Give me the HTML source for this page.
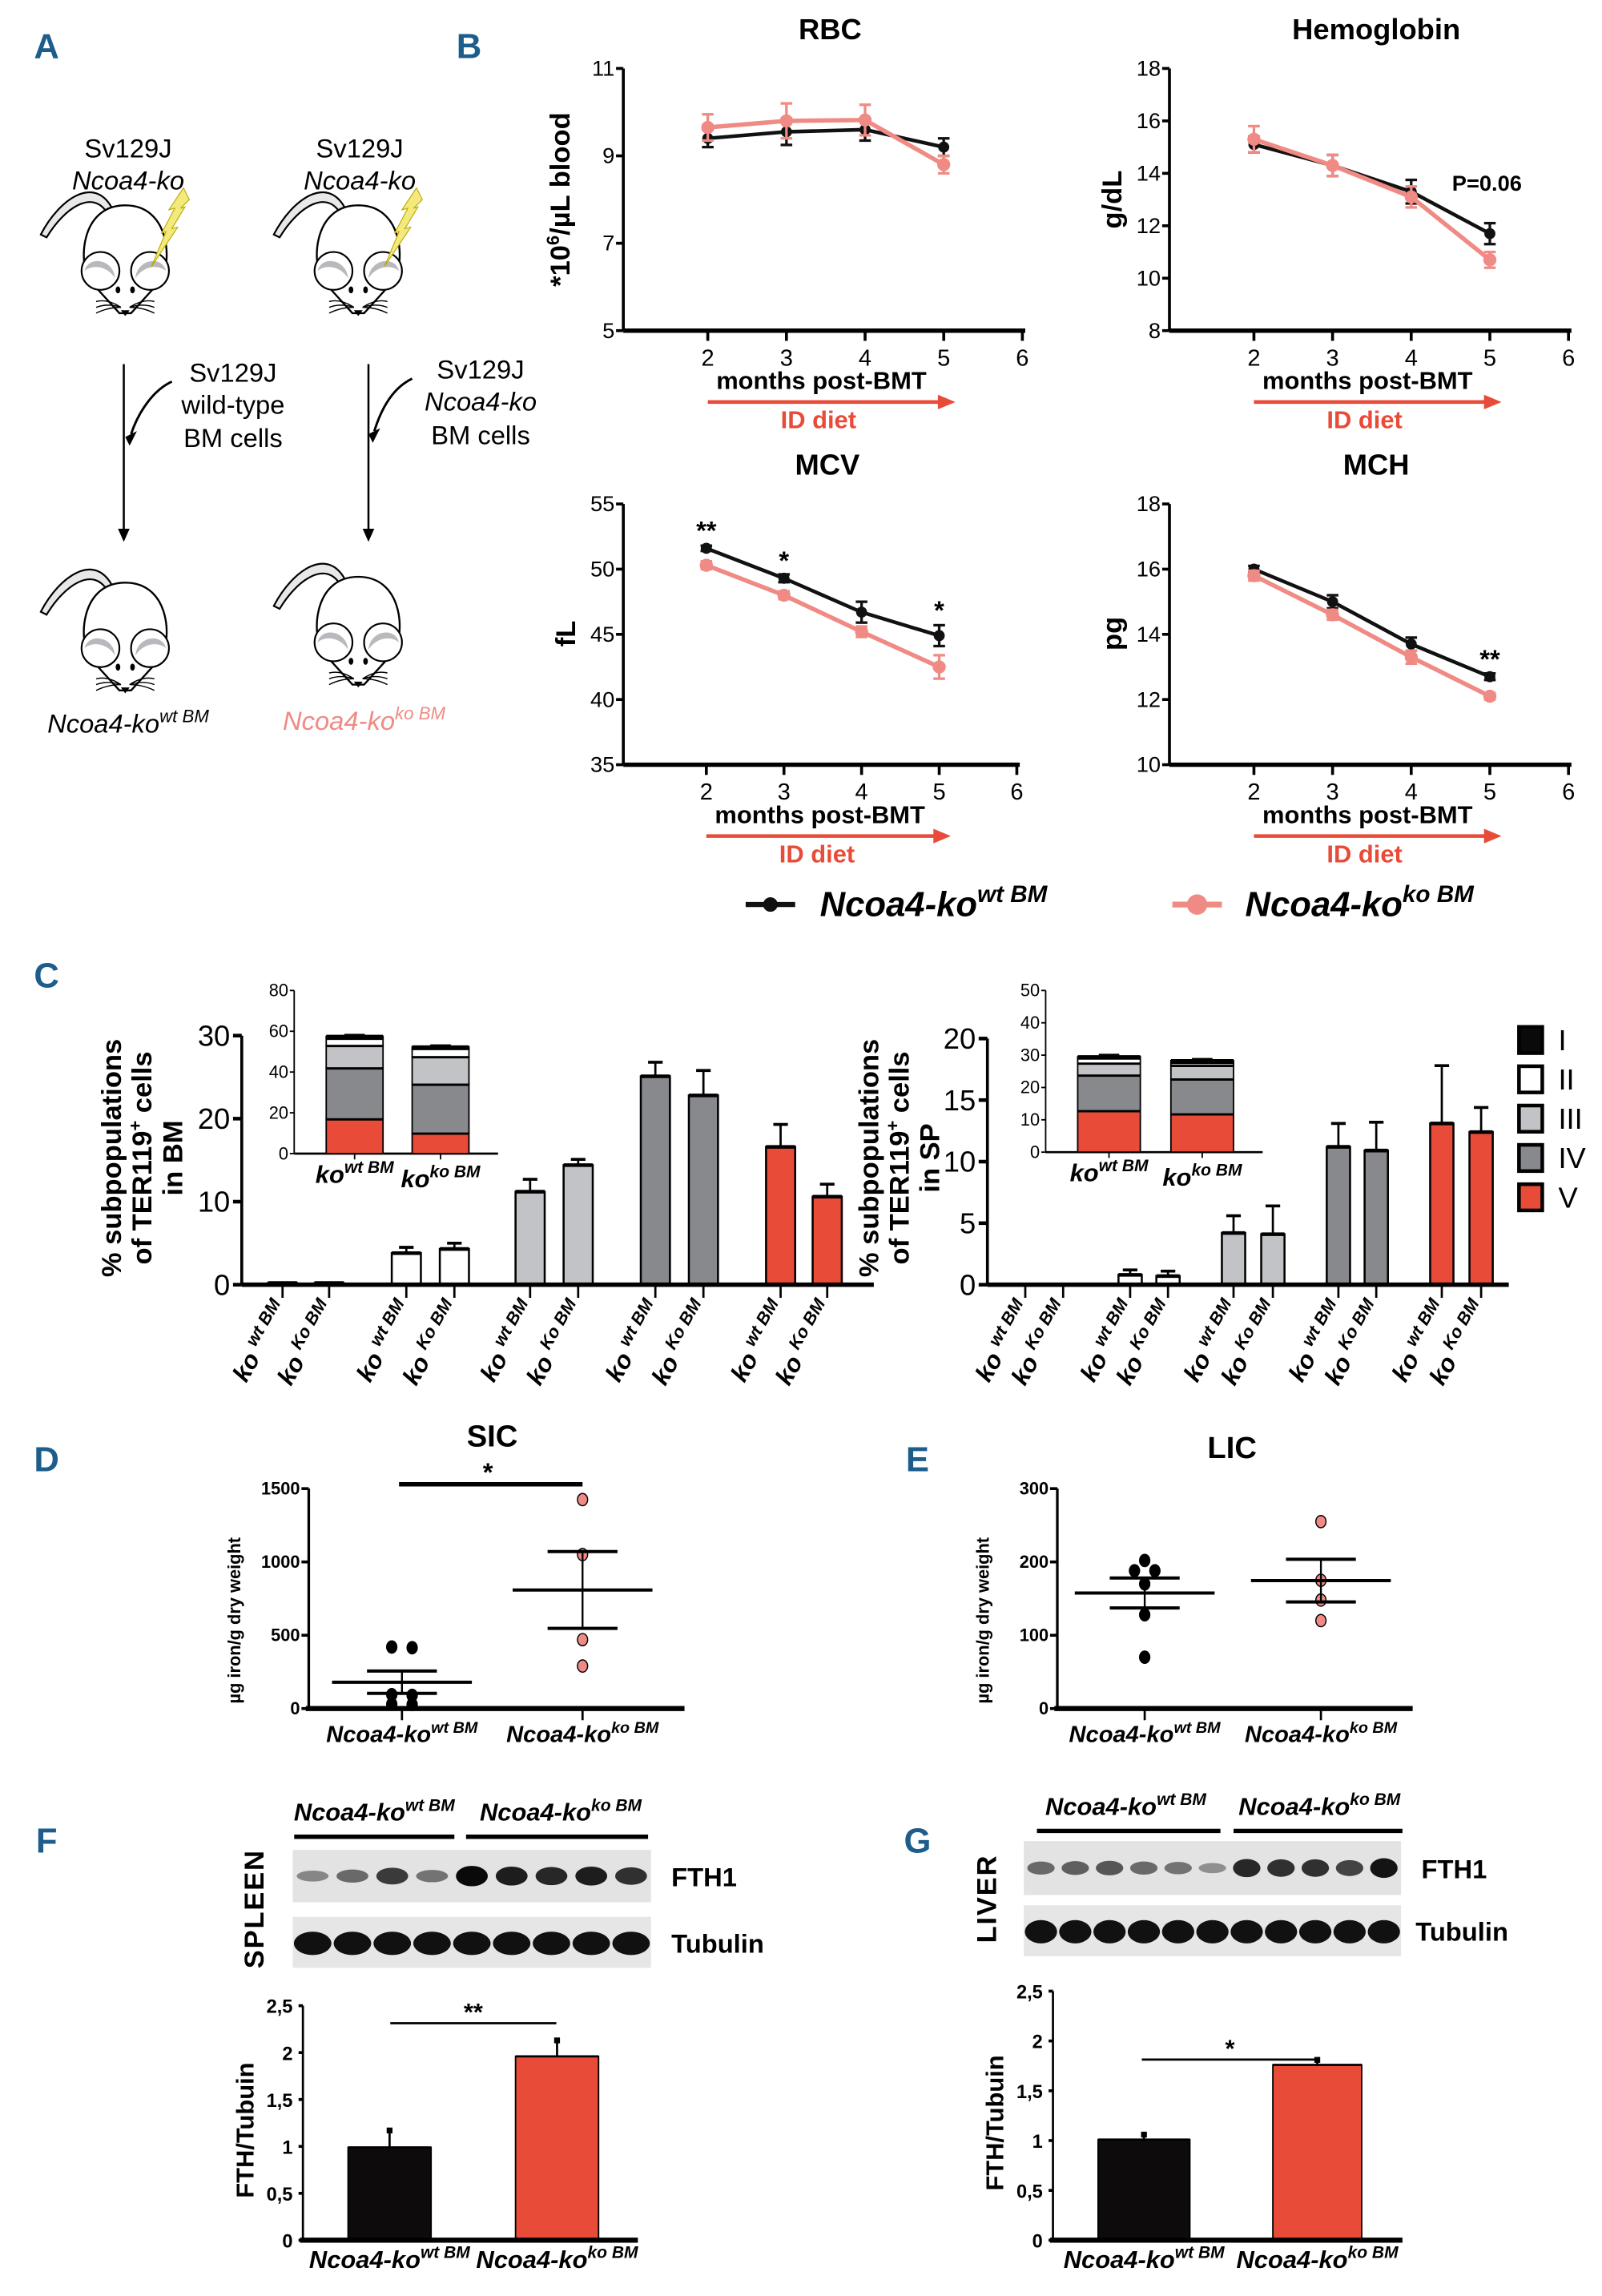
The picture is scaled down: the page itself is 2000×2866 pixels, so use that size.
<!DOCTYPE html>
<html><head><meta charset="utf-8"><title>Ncoa4 figure</title>
<style>
html,body{margin:0;padding:0;background:#fff;}
svg{display:block;}
text{font-family:"Liberation Sans Narrow","Liberation Sans",sans-serif;}
</style></head>
<body>
<svg id="fig" xmlns="http://www.w3.org/2000/svg" width="2000" height="2866" viewBox="0 0 1100 1576.3" preserveAspectRatio="none"></svg>
<script>
// ---------- DATA ----------
const months = [2, 3, 4, 5];
const rbcWt = [9.4, 9.55, 9.6, 9.2];
const rbcWtErr = [0.2, 0.3, 0.25, 0.2];
const rbcKo = [9.65, 9.8, 9.82, 8.8];
const rbcKoErr = [0.3, 0.4, 0.35, 0.2];
const hbWt = [15.1, 14.3, 13.3, 11.7];
const hbWtErr = [0.3, 0.4, 0.45, 0.4];
const hbKo = [15.3, 14.3, 13.1, 10.7];
const hbKoErr = [0.5, 0.4, 0.4, 0.3];
const mcvWt = [51.6, 49.3, 46.7, 44.9];
const mcvWtErr = [0.2, 0.3, 0.8, 0.8];
const mcvKo = [50.3, 48.0, 45.2, 42.5];
const mcvKoErr = [0.3, 0.3, 0.4, 0.9];
const mchWt = [16.0, 15.0, 13.7, 12.7];
const mchWtErr = [0.1, 0.2, 0.2, 0.1];
const mchKo = [15.8, 14.6, 13.3, 12.1];
const mchKoErr = [0.15, 0.15, 0.2, 0.1];
const rbcTicks = [5, 7, 9, 11];
const hbTicks = [8, 10, 12, 14, 16, 18];
const mcvTicks = [35, 40, 45, 50, 55];
const mchTicks = [10, 12, 14, 16, 18];
const xTicks = [2, 3, 4, 5, 6];

const stages = ["I", "II", "III", "IV", "V"];
const stageColors = ["#0a0a0a", "#ffffff", "#c2c3c6", "#88898d", "#e84b37"];
const bmWt = [0.2, 3.8, 11.2, 25.1, 16.6];
const bmWtErr = [0, 0.7, 1.5, 1.7, 2.7];
const bmKo = [0.2, 4.3, 14.4, 22.8, 10.6];
const bmKoErr = [0, 0.7, 0.7, 3.0, 1.5];
const spWt = [0, 0.8, 4.2, 11.2, 13.1];
const spWtErr = [0, 0.4, 1.4, 1.9, 4.7];
const spKo = [0, 0.7, 4.1, 10.9, 12.4];
const spKoErr = [0, 0.4, 2.3, 2.3, 2.0];
const bmTicks = [0, 10, 20, 30];
const spTicks = [0, 5, 10, 15, 20];
// inset stacked (order V, IV, III, II, I)
const insetOrder = [4, 3, 2, 1, 0];
const bmInsetWt = [17, 25, 11, 3.5, 1];
const bmInsetKo = [10, 24, 13.5, 4, 0.8];
const bmInsetErr = [3, 2, 1.5, 1.5, 0.7];
const spInsetWt = [12.8, 11, 3.7, 1.6, 0.4];
const spInsetKo = [11.8, 10.8, 4.2, 0.9, 0.6];
const spInsetErr = [5, 2.5, 1.5, 1, 0.5];
const bmInsetTicks = [0, 20, 40, 60, 80];
const spInsetTicks = [0, 10, 20, 30, 40, 50];

const sicWt = [420, 415, 95, 90, 30, 28];
const sicKo = [1425, 1050, 470, 290];
const sicTicks = [0, 500, 1000, 1500];
const licWt = [202, 188, 188, 170, 128, 70];
const licKo = [255, 175, 148, 120];
const licTicks = [0, 100, 200, 300];

const fthGroups = ["wt", "ko"];
const spleenFth = [0.99, 1.96];
const spleenErr = [0.18, 0.17];
const liverFth = [1.01, 1.76];
const liverErr = [0.05, 0.05];
const fthTicks = [0, 0.5, 1, 1.5, 2, 2.5];
const spleenBands = [0.35, 0.5, 0.75, 0.45, 1.0, 0.9, 0.85, 0.9, 0.8];
const liverBands = [0.5, 0.55, 0.6, 0.5, 0.45, 0.3, 0.85, 0.8, 0.8, 0.7, 0.95];

// ---------- HELPERS ----------
const NS = "http://www.w3.org/2000/svg";
const svg = document.getElementById("fig");
const BLUE = "#1d5d8c", PINK = "#f08a84", RED = "#e84b37";
function mk(tag, attrs, name, parent) {
  const el = document.createElementNS(NS, tag);
  for (const k in attrs) el.setAttribute(k, attrs[k]);
  
  
  (parent || svg).appendChild(el);
  return el;
}
function line(x1, y1, x2, y2, name, w, c, p) {
  return mk("line", {x1, y1, x2, y2, stroke: c || "#000", "stroke-width": w || 1.5}, name, p);
}
function txt(x, y, s, name, o, p) {
  o = o || {};
  const el = mk("text", {x, y, "font-size": o.size || 14, "font-weight": o.bold ? "bold" : "normal",
    "font-style": o.italic ? "italic" : "normal", fill: o.fill || "#000", "text-anchor": o.anchor || "middle"}, name, p);
  if (o.transform) el.setAttribute("transform", o.transform);
  el.textContent = s;
  return el;
}
function supLabel(x, y, base, sup, name, size, fill, anchor, transform) {
  const el = mk("text", {x, y, "font-size": size, "font-weight": "bold", "font-style": "italic",
    fill: fill || "#000", "text-anchor": anchor || "middle"}, name);
  if (transform) el.setAttribute("transform", transform);
  const t1 = document.createElementNS(NS, "tspan"); t1.textContent = base; el.appendChild(t1);
  const t2 = document.createElementNS(NS, "tspan"); t2.setAttribute("dy", -size * 0.4);
  t2.setAttribute("font-size", size * 0.68); t2.textContent = sup; el.appendChild(t2);
  return el;
}

// ---------- PANEL LETTERS ----------
[["A", 32, 40], ["B", 322, 40], ["C", 32, 678], ["D", 32, 1010], ["E", 630, 1010], ["F", 32, 1272], ["G", 630, 1272]].forEach(l => {
  txt(l[1], l[2], l[0], "panel-label-" + l[0].toLowerCase(), {size: 24, bold: true, fill: BLUE});
});

// ---------- PANEL A ----------
function mouse(cx, top, bolt, name) {
  const g = mk("g", {}, name);
  mk("path", {d: `M${cx - 8},${top + 4} C${cx - 20},${top - 22} ${cx - 45},${top - 5} ${cx - 58},${top + 20} L${cx - 54},${top + 22} C${cx - 42},${top + 2} ${cx - 22},${top - 12} ${cx - 12},${top + 6}`, fill: "#e8e8e8", stroke: "#000", "stroke-width": 1.2}, "mouse-tail", g);
  mk("path", {d: `M${cx},${top} C${cx + 32},${top} ${cx + 32},${top + 42} ${cx + 24},${top + 52} L${cx + 4},${top + 74} L${cx - 4},${top + 74} L${cx - 24},${top + 52} C${cx - 32},${top + 42} ${cx - 32},${top} ${cx},${top} Z`, fill: "#fff", stroke: "#000", "stroke-width": 1.3}, "mouse-body", g);
  [-1, 1].forEach(s => {
    mk("circle", {cx: cx + s * 17, cy: top + 45, r: 13, fill: "#fff", stroke: "#000", "stroke-width": 1.2}, "mouse-ear", g);
    mk("path", {d: `M${cx + s * 7},${top + 50} C${cx + s * 8},${top + 37} ${cx + s * 25},${top + 34} ${cx + s * 28},${top + 45} C${cx + s * 22},${top + 40} ${cx + s * 12},${top + 42} ${cx + s * 7},${top + 50} Z`, fill: "#b8b9bc"}, "mouse-ear-inner", g);
    mk("ellipse", {cx: cx + s * 5, cy: top + 58, rx: 1.6, ry: 2.4, fill: "#000"}, "mouse-eye", g);
    for (let i = 0; i < 3; i++) {
      mk("path", {d: `M${cx + s * 3},${top + 70} Q${cx + s * 12},${top + 64 + i * 3} ${cx + s * 20},${top + 66 + i * 4}`, fill: "none", stroke: "#000", "stroke-width": 0.8}, "mouse-whisker", g);
    }
  });
  mk("path", {d: `M${cx - 3},${top + 72} L${cx + 3},${top + 72} L${cx},${top + 76} Z`, fill: "#000"}, "mouse-nose", g);
  if (bolt) {
    mk("polygon", {points: `${cx + 18},${top + 42} ${cx + 28},${top + 18} ${cx + 25},${top + 19} ${cx + 34},${top + 2} ${cx + 30},${top + 3} ${cx + 40},${top - 12} ${cx + 44},${top - 4} ${cx + 38},${top + 2} ${cx + 41},${top + 1} ${cx + 32},${top + 16} ${cx + 36},${top + 15}`, fill: "#f3e97c", stroke: "#b8a800", "stroke-width": 0.6}, "lightning-bolt", g);
  }
}
mouse(86, 141, true, "mouse-donor-recipient-wt");
mouse(246, 141, true, "mouse-donor-recipient-ko");
mouse(86, 400, false, "mouse-result-wt");
mouse(246, 396, false, "mouse-result-ko");
txt(88, 108, "Sv129J", "mouse-strain-1", {size: 18});
txt(88, 130, "Ncoa4-ko", "mouse-genotype-1", {size: 18, italic: true});
txt(247, 108, "Sv129J", "mouse-strain-2", {size: 18});
txt(247, 130, "Ncoa4-ko", "mouse-genotype-2", {size: 18, italic: true});
line(85, 250, 85, 365, "transplant-arrow-1", 1.4);
mk("polygon", {points: "81,363 89,363 85,372"}, "arrowhead-1");
line(253, 250, 253, 365, "transplant-arrow-2", 1.4);
mk("polygon", {points: "249,363 257,363 253,372"}, "arrowhead-2");
mk("path", {d: "M118,262 C105,268 95,283 90,298", fill: "none", stroke: "#000", "stroke-width": 1.6}, "cells-arrow-1");
mk("polygon", {points: "86,300 94,296 89,306"}, "cells-arrowhead-1");
mk("path", {d: "M283,260 C270,266 262,280 257,296", fill: "none", stroke: "#000", "stroke-width": 1.6}, "cells-arrow-2");
mk("polygon", {points: "253,298 261,294 256,304"}, "cells-arrowhead-2");
txt(160, 262, "Sv129J", "donor-strain-1", {size: 18});
txt(160, 284, "wild-type", "donor-genotype-1", {size: 18});
txt(160, 307, "BM cells", "donor-cells-1", {size: 18});
txt(330, 260, "Sv129J", "donor-strain-2", {size: 18});
txt(330, 282, "Ncoa4-ko", "donor-genotype-2", {size: 18, italic: true});
txt(330, 305, "BM cells", "donor-cells-2", {size: 18});
(function () {
  const e = supLabel(88, 503, "Ncoa4-ko", "wt BM", "result-label-wt", 18);
  e.setAttribute("font-weight", "normal");
  const f = supLabel(250, 501, "Ncoa4-ko", "ko BM", "result-label-ko", 18, PINK);
  f.setAttribute("font-weight", "normal");
})();

// ---------- PANEL B: line charts ----------
function lineChart(cfg) {
  const {name, x0, xStart, xStep, yTop, yBot, vMin, vMax, ticks, wt, wtE, ko, koE, title, ylab} = cfg;
  const ys = v => yBot - (v - vMin) / (vMax - vMin) * (yBot - yTop);
  const xs = m => xStart + (m - 2) * xStep;
  const g = mk("g", {}, name + "-chart");
  line(x0, yTop, x0, yBot, name + "-y-axis", 2, "#000", g);
  line(x0, yBot, xs(6) + 2, yBot, name + "-x-axis", 3, "#000", g);
  ticks.forEach(t => {
    line(x0 - 5, ys(t), x0, ys(t), name + "-y-tick", 2, "#000", g);
    txt(x0 - 6, ys(t) + 5, String(t), name + "-y-tick-label", {size: 15, anchor: "end"}, g);
  });
  xTicks.forEach(m => {
    line(xs(m), yBot, xs(m), yBot + 7, name + "-x-tick", 2, "#000", g);
    txt(xs(m), yBot + 24, String(m), name + "-x-tick-label", {size: 16}, g);
  });
  txt((x0 + xs(6)) / 2 + 5, yTop - 20, title, name + "-title", {size: 20, bold: true}, g);
  txt(xs(2) + 78, yBot + 40, "months post-BMT", name + "-x-axis-title", {size: 17, bold: true}, g);
  line(xs(2), yBot + 49, xs(5) - 2, yBot + 49, name + "-diet-arrow", 2.5, RED, g);
  mk("polygon", {points: `${xs(5) - 4},${yBot + 44} ${xs(5) + 8},${yBot + 49} ${xs(5) - 4},${yBot + 54}`, fill: RED}, name + "-diet-arrowhead", g);
  txt(xs(2) + 76, yBot + 67, "ID diet", name + "-diet-label", {size: 17, bold: true, fill: RED}, g);
  [[wt, wtE, "#111", "wt"], [ko, koE, PINK, "ko"]].forEach(s => {
    const [vals, errs, col, key] = s;
    const pts = months.map((m, i) => xs(m) + "," + ys(vals[i])).join(" ");
    mk("polyline", {points: pts, fill: "none", stroke: col, "stroke-width": key === "ko" ? 3 : 2.5}, name + "-line-" + key, g);
    months.forEach((m, i) => {
      const x = xs(m), y1 = ys(vals[i] + errs[i]), y2 = ys(vals[i] - errs[i]);
      line(x, y1, x, y2, name + "-error-bar-" + key, 1.8, col, g);
      line(x - 4, y1, x + 4, y1, name + "-error-cap-" + key, 1.8, col, g);
      line(x - 4, y2, x + 4, y2, name + "-error-cap-" + key, 1.8, col, g);
      mk("circle", {cx: x, cy: ys(vals[i]), r: key === "ko" ? 4.5 : 3.8, fill: col}, name + "-point-" + key, g);
    });
  });
  return {xs, ys};
}
const rbc = lineChart({name: "rbc", x0: 428, xStart: 486, xStep: 54, yTop: 47, yBot: 227, vMin: 5, vMax: 11, ticks: rbcTicks, wt: rbcWt, wtE: rbcWtErr, ko: rbcKo, koE: rbcKoErr, title: "RBC"});
const hb = lineChart({name: "hemoglobin", x0: 803, xStart: 861, xStep: 54, yTop: 47, yBot: 227, vMin: 8, vMax: 18, ticks: hbTicks, wt: hbWt, wtE: hbWtErr, ko: hbKo, koE: hbKoErr, title: "Hemoglobin"});
const mcv = lineChart({name: "mcv", x0: 428, xStart: 485, xStep: 53.3, yTop: 346, yBot: 525, vMin: 35, vMax: 55, ticks: mcvTicks, wt: mcvWt, wtE: mcvWtErr, ko: mcvKo, koE: mcvKoErr, title: "MCV"});
const mch = lineChart({name: "mch", x0: 803, xStart: 861, xStep: 54, yTop: 346, yBot: 525, vMin: 10, vMax: 18, ticks: mchTicks, wt: mchWt, wtE: mchWtErr, ko: mchKo, koE: mchKoErr, title: "MCH"});
(function () {
  const e = mk("text", {x: 0, y: 0, "font-size": 19, "font-weight": "bold", "text-anchor": "middle", transform: "translate(391,137) rotate(-90)"}, "rbc-y-axis-title");
  e.style.fontFamily = '"Liberation Sans",sans-serif';
  e.innerHTML = '*10<tspan dy="-7" font-size="12">6</tspan><tspan dy="7">/µL blood</tspan>';
})();
txt(0, 0, "g/dL", "hemoglobin-y-axis-title", {size: 19, bold: true, transform: "translate(770,137) rotate(-90)"}).style.fontFamily = '"Liberation Sans",sans-serif';
txt(0, 0, "fL", "mcv-y-axis-title", {size: 19, bold: true, transform: "translate(395,435) rotate(-90)"}).style.fontFamily = '"Liberation Sans",sans-serif';
txt(0, 0, "pg", "mch-y-axis-title", {size: 19, bold: true, transform: "translate(770,435) rotate(-90)"}).style.fontFamily = '"Liberation Sans",sans-serif';
txt(1021, 131, "P=0.06", "hemoglobin-p-value", {size: 15, bold: true});
txt(mcv.xs(2), mcv.ys(mcvWt[0]) - 6, "**", "mcv-sig-month2", {size: 18, bold: true});
txt(mcv.xs(3), mcv.ys(mcvWt[1]) - 6, "*", "mcv-sig-month3", {size: 18, bold: true});
txt(mcv.xs(5), mcv.ys(mcvWt[3] + mcvWtErr[3]) - 4, "*", "mcv-sig-month5", {size: 18, bold: true});
txt(mch.xs(5), mch.ys(mchWt[3]) - 6, "**", "mch-sig-month5", {size: 18, bold: true});
// legend
line(512, 621, 546, 621, "legend-line-wt", 3.5, "#111");
mk("circle", {cx: 529, cy: 621, r: 5, fill: "#111"}, "legend-marker-wt");
supLabel(563, 629, "Ncoa4-ko", "wt BM", "legend-label-wt", 24, "#000", "start");
line(805, 621, 839, 621, "legend-line-ko", 4, PINK);
mk("circle", {cx: 822, cy: 621, r: 7, fill: PINK}, "legend-marker-ko");
supLabel(855, 629, "Ncoa4-ko", "ko BM", "legend-label-ko", 24, "#000", "start");

// ---------- PANEL C ----------
function groupedBars(cfg) {
  const {name, x0, xEnd, yBot, pxPer, ticks, wt, wtE, ko, koE, pos, bw} = cfg;
  const ys = v => yBot - v * pxPer;
  const g = mk("g", {}, name + "-bar-chart");
  stages.forEach((s, i) => {
    [[wt, wtE, pos[i][0], "wt"], [ko, koE, pos[i][1], "ko"]].forEach(b => {
      const [vals, errs, cx, key] = b;
      const v = vals[i];
      if (errs[i] > 0) {
        line(cx, ys(v), cx, ys(v + errs[i]), name + "-error-bar", 1.5, "#000", g);
        line(cx - 5, ys(v + errs[i]), cx + 5, ys(v + errs[i]), name + "-error-cap", 2, "#000", g);
      }
      mk("rect", {x: cx - bw / 2, y: ys(v), width: bw, height: Math.max(0.5, v * pxPer), fill: stageColors[i], stroke: "#000", "stroke-width": 1.4}, name + "-bar-" + s + "-" + key, g);
      line(cx - bw / 2, ys(v), cx + bw / 2, ys(v), name + "-bar-top", 2.5, "#000", g);
      line(cx, yBot, cx, yBot + 9, name + "-x-tick", 1.5, "#000", g);
      const lab = mk("text", {x: 0, y: 0, "font-size": 17, "font-weight": "bold", "font-style": "italic", "text-anchor": "end", transform: `translate(${cx + 5},${yBot + 16}) rotate(-60)`}, name + "-x-tick-label", g);
      lab.innerHTML = 'ko <tspan font-size="12" dy="-7">' + key + ' BM</tspan>';
      if (key === "ko") lab.innerHTML = 'ko <tspan font-size="12" dy="-7">Ko BM</tspan>';
    });
  });
  line(x0, yBot, xEnd, yBot, name + "-x-axis", 3, "#000", g);
  line(x0, ys(ticks[ticks.length - 1]), x0, yBot, name + "-y-axis", 2, "#000", g);
  ticks.forEach(t => {
    line(x0 - 6, ys(t), x0, ys(t), name + "-y-tick", 2.5, "#000", g);
    txt(x0 - 8, ys(t) + 7, String(t), name + "-y-tick-label", {size: 20, anchor: "end"}, g);
  });
}
groupedBars({name: "bm", x0: 166, xEnd: 600, yBot: 882, pxPer: 5.7, ticks: bmTicks, wt: bmWt, wtE: bmWtErr, ko: bmKo, koE: bmKoErr, bw: 20,
  pos: [[194, 226], [279, 312], [364, 397], [450, 483], [536, 568]]});
groupedBars({name: "sp", x0: 678, xEnd: 1036, yBot: 882, pxPer: 8.45, ticks: spTicks, wt: spWt, wtE: spWtErr, ko: spKo, koE: spKoErr, bw: 16,
  pos: [[704, 730], [776, 802], [847, 874], [919, 945], [990, 1017]]});

function insetStack(cfg) {
  const {name, x0, xEnd, yBot, yTop, vMax, ticks, wt, ko, err, bars} = cfg;
  const ys = v => yBot - v / vMax * (yBot - yTop);
  const g = mk("g", {}, name + "-inset");
  line(x0, yTop, x0, yBot, name + "-inset-y-axis", 1, "#000", g);
  line(x0, yBot, xEnd, yBot, name + "-inset-x-axis", 1.5, "#000", g);
  ticks.forEach(t => {
    line(x0 - 3, ys(t), x0, ys(t), name + "-inset-y-tick", 1, "#000", g);
    txt(x0 - 4, ys(t) + 4, String(t), name + "-inset-y-tick-label", {size: 12, anchor: "end"}, g);
  });
  [[wt, bars[0], "wt"], [ko, bars[1], "ko"]].forEach(b => {
    const [vals, [bx, bw], key] = b;
    let cum = 0;
    insetOrder.forEach((si, k) => {
      const v = vals[k];
      mk("rect", {x: bx, y: ys(cum + v), width: bw, height: v / vMax * (yBot - yTop), fill: stageColors[si], stroke: "#000", "stroke-width": 1}, name + "-inset-segment-" + stages[si] + "-" + key, g);
      cum += v;
      line(bx, ys(cum), bx + bw, ys(cum), name + "-inset-segment-top", 2.2, "#000", g);
      const cx = bx + bw / 2;
      line(cx, ys(cum), cx, ys(cum + err[k]), name + "-inset-error-bar", 1, "#000", g);
      line(cx - 7, ys(cum + err[k]), cx + 7, ys(cum + err[k]), name + "-inset-error-cap", 1.5, "#000", g);
    });
    line(bx + bw / 2, yBot, bx + bw / 2, yBot + 4, name + "-inset-x-tick", 1, "#000", g);
  });
  supLabel(bars[0][0] + bars[0][1] / 2, yBot + 20, "ko", "wt BM", name + "-inset-label-wt", 17);
  supLabel(bars[1][0] + bars[1][1] / 2, yBot + 23, "ko", "ko BM", name + "-inset-label-ko", 17);
}
insetStack({name: "bm", x0: 202, xEnd: 342, yBot: 792, yTop: 680, vMax: 80, ticks: bmInsetTicks, wt: bmInsetWt, ko: bmInsetKo, err: bmInsetErr, bars: [[224, 39], [283, 39]]});
insetStack({name: "sp", x0: 718, xEnd: 867, yBot: 791, yTop: 680, vMax: 50, ticks: spInsetTicks, wt: spInsetWt, ko: spInsetKo, err: spInsetErr, bars: [[740, 43], [804, 43]]});

function cYLabel(x, lines, name) {
  const e = mk("text", {x: 0, y: 0, "font-size": 19, "font-weight": "bold", "text-anchor": "middle", transform: `translate(${x},795) rotate(-90)`}, name);
  e.style.fontFamily = '"Liberation Sans",sans-serif';
  e.innerHTML = lines;
}
cYLabel(83, '% subpopulations', "bm-y-axis-title-line1");
cYLabel(104, 'of TER119<tspan font-size="12" dy="-7">+</tspan><tspan dy="7"> cells</tspan>', "bm-y-axis-title-line2");
cYLabel(125, 'in BM', "bm-y-axis-title-line3");
cYLabel(603, '% subpopulations', "sp-y-axis-title-line1");
cYLabel(624, 'of TER119<tspan font-size="12" dy="-7">+</tspan><tspan dy="7"> cells</tspan>', "sp-y-axis-title-line2");
cYLabel(645, 'in SP', "sp-y-axis-title-line3");
stages.forEach((s, i) => {
  const y = 705 + i * 27;
  mk("rect", {x: 1043, y: y, width: 16, height: 18, fill: stageColors[i], stroke: "#000", "stroke-width": 2.5}, "legend-swatch-" + s);
  txt(1070, y + 16, s, "legend-label-" + s, {size: 20, anchor: "start"});
});

// ---------- PANELS D & E ----------
function dotPlot(cfg) {
  const {name, x0, xEnd, yBot, yTop, vMax, ticks, wt, ko, gx, title, tx, ty} = cfg;
  const ys = v => yBot - v / vMax * (yBot - yTop);
  const g = mk("g", {}, name + "-dot-plot");
  line(x0, yTop, x0, yBot, name + "-y-axis", 1.8, "#000", g);
  line(x0 - 2, yBot, xEnd, yBot, name + "-x-axis", 3.5, "#000", g);
  ticks.forEach(t => {
    line(x0 - 5, ys(t), x0, ys(t), name + "-y-tick", 2, "#000", g);
    txt(x0 - 6, ys(t) + 4, String(t), name + "-y-tick-label", {size: 12, bold: true, anchor: "end"}, g);
  });
  txt(tx, ty, title, name + "-title", {size: 21, bold: true}, g);
  [[wt, gx[0], "#000", "wt"], [ko, gx[1], "#f08a84", "ko"]].forEach(s => {
    const [vals, cx, col, key] = s;
    const mean = vals.reduce((a, b) => a + b, 0) / vals.length;
    const sd = Math.sqrt(vals.reduce((a, b) => a + (b - mean) * (b - mean), 0) / (vals.length - 1));
    const sem = sd / Math.sqrt(vals.length);
    line(cx, yBot, cx, yBot + 8, name + "-x-tick", 1.5, "#000", g);
    // points with small jitter for duplicates
    const seen = {};
    vals.forEach(v => {
      const k = Math.round(v / (vMax / 30));
      seen[k] = (seen[k] || 0) + 1;
      const n = vals.filter(w => Math.round(w / (vMax / 30)) === k).length;
      const off = n > 1 ? (seen[k] === 1 ? -7 : 7) : 0;
      mk("ellipse", {cx: cx + off, cy: ys(v), rx: 3.5, ry: 4.2, fill: col, stroke: "#000", "stroke-width": 0.8}, name + "-point-" + key, g);
    });
    line(cx, ys(mean + sem), cx, ys(mean - sem), name + "-sem-bar-" + key, 1.3, "#000", g);
    line(cx - 24, ys(mean + sem), cx + 24, ys(mean + sem), name + "-sem-cap-" + key, 2.2, "#000", g);
    line(cx - 24, ys(mean - sem), cx + 24, ys(mean - sem), name + "-sem-cap-" + key, 2.2, "#000", g);
    line(cx - 48, ys(mean), cx + 48, ys(mean), name + "-mean-line-" + key, 2.2, "#000", g);
  });
  supLabel(gx[0], yBot + 23, "Ncoa4-ko", "wt BM", name + "-x-label-wt", 16);
  supLabel(gx[1], yBot + 23, "Ncoa4-ko", "ko BM", name + "-x-label-ko", 16);
  const yl = txt(0, 0, "µg iron/g dry weight", name + "-y-axis-title", {size: 12, bold: true, transform: `translate(${x0 - 47},${(yTop + yBot) / 2 + 15}) rotate(-90)`}, g);
  yl.style.fontFamily = '"Liberation Sans",sans-serif';
}
dotPlot({name: "sic", x0: 212, xEnd: 470, yBot: 1173, yTop: 1022, vMax: 1500, ticks: sicTicks, wt: sicWt, ko: sicKo, gx: [276, 400], title: "SIC", tx: 338, ty: 993});
dotPlot({name: "lic", x0: 726, xEnd: 970, yBot: 1173, yTop: 1022, vMax: 300, ticks: licTicks, wt: licWt, ko: licKo, gx: [786, 907], title: "LIC", tx: 846, ty: 1001});
line(274, 1019, 400, 1019, "sic-significance-bracket", 3);
txt(335, 1017, "*", "sic-significance-star", {size: 18, bold: true});

// ---------- PANELS F & G ----------
function blot(cfg) {
  const {name, bx, bw, y1, h1, y2, h2, bands, labels, label2, tissue, tx, hx, hy, ul} = cfg;
  const g = mk("g", {}, name + "-western-blot");
  mk("rect", {x: bx, y: y1, width: bw, height: h1, fill: "#e3e3e3"}, name + "-fth1-blot", g);
  mk("rect", {x: bx, y: y2, width: bw, height: h2, fill: "#e6e6e6"}, name + "-tubulin-blot", g);
  const n = bands.length, lw = bw / n;
  bands.forEach((b, i) => {
    const cx = bx + lw * (i + 0.5);
    mk("ellipse", {cx, cy: y1 + h1 * 0.5, rx: lw * 0.4, ry: 2 + b * 5, fill: `rgb(${Math.round(200 - b * 190)},${Math.round(200 - b * 190)},${Math.round(200 - b * 190)})`}, name + "-fth1-band", g);
    mk("ellipse", {cx, cy: y2 + h2 * 0.52, rx: lw * 0.47, ry: 8, fill: "#111"}, name + "-tubulin-band", g);
  });
  txt(bx + bw + 14, y1 + h1 / 2 + 7, "FTH1", name + "-fth1-label", {size: 18, bold: true, anchor: "start"}, g);
  txt(bx + bw + 14 + (label2 || 0), y2 + h2 / 2 + 7, "Tubulin", name + "-tubulin-label", {size: 18, bold: true, anchor: "start"}, g);
  const tl = txt(0, 0, tissue, name + "-tissue-label", {size: 19, bold: true, transform: `translate(${tx},${(y1 + y2 + h2) / 2}) rotate(-90)`}, g);
  tl.style.fontFamily = '"Liberation Sans",sans-serif';
  tl.setAttribute("letter-spacing", "1");
  supLabel(hx[0], hy, "Ncoa4-ko", "wt BM", name + "-header-wt", 17);
  supLabel(hx[1], hy, "Ncoa4-ko", "ko BM", name + "-header-ko", 17);
  line(ul[0], hy + 11, ul[1], hy + 11, name + "-group-line-wt", 3);
  line(ul[2], hy + 11, ul[3], hy + 11, name + "-group-line-ko", 3);
}
blot({name: "spleen", bx: 201, bw: 246, y1: 1270, h1: 36, y2: 1316, h2: 35, bands: spleenBands, tissue: "SPLEEN", tx: 181, hx: [257, 385], hy: 1250, ul: [202, 312, 320, 445]});
blot({name: "liver", bx: 703, bw: 259, y1: 1264, h1: 37, y2: 1308, h2: 35, bands: liverBands, tissue: "LIVER", tx: 684, hx: [773, 906], hy: 1246, ul: [712, 838, 847, 963], label2: -4});

function fthBars(cfg) {
  const {name, x0, xEnd, yBot, yTop, vals, errs, bars, br, star} = cfg;
  const ys = v => yBot - v / 2.5 * (yBot - yTop);
  const g = mk("g", {}, name + "-fth-bar-chart");
  fthGroups.forEach((k, i) => {
    const [bx, bw] = bars[i];
    const cx = bx + bw / 2;
    line(cx, ys(vals[i]), cx, ys(vals[i] + errs[i]), name + "-error-bar-" + k, 1.5, "#000", g);
    mk("rect", {x: cx - 2, y: ys(vals[i] + errs[i]) - 2, width: 4, height: 4, fill: "#000"}, name + "-error-cap-" + k, g);
    mk("rect", {x: bx, y: ys(vals[i]), width: bw, height: yBot - ys(vals[i]), fill: i ? RED : "#0d0b0c", stroke: "#000", "stroke-width": 1}, name + "-bar-" + k, g);
    line(bx, ys(vals[i]), bx + bw, ys(vals[i]), name + "-bar-top-" + k, 1.5, "#000", g);
  });
  line(x0, yTop, x0, yBot, name + "-y-axis", 1.5, "#000", g);
  line(x0 - 2, yBot, xEnd, yBot, name + "-x-axis", 3.5, "#000", g);
  fthTicks.forEach(t => {
    line(x0 - 3, ys(t), x0, ys(t), name + "-y-tick", 2, "#000", g);
    txt(x0 - 7, ys(t) + 5, String(t).replace(".", ","), name + "-y-tick-label", {size: 13, bold: true, anchor: "end"}, g);
  });
  line(br[0], br[2], br[1], br[2], name + "-significance-bracket", 1.5, "#000", g);
  txt((br[0] + br[1]) / 2, br[2] - 2, star, name + "-significance-star", {size: 17, bold: true}, g);
  supLabel(bars[0][0] + bars[0][1] / 2, yBot + 19, "Ncoa4-ko", "wt BM", name + "-x-label-wt", 17);
  supLabel(bars[1][0] + bars[1][1] / 2, yBot + 19, "Ncoa4-ko", "ko BM", name + "-x-label-ko", 17);
  const yl = txt(0, 0, "FTH/Tubuin", name + "-y-axis-title", {size: 17, bold: true, transform: `translate(${x0 - 34},${(yTop + yBot) / 2 + 5}) rotate(-90)`}, g);
  yl.style.fontFamily = '"Liberation Sans",sans-serif';
}
fthBars({name: "spleen", x0: 208, xEnd: 438, yBot: 1538, yTop: 1377, vals: spleenFth, errs: spleenErr, bars: [[239, 57], [354, 57]], br: [268, 382, 1389], star: "**"});
fthBars({name: "liver", x0: 723, xEnd: 963, yBot: 1538, yTop: 1367, vals: liverFth, errs: liverErr, bars: [[754, 63], [874, 61]], br: [784, 905, 1414], star: "*"});
</script>
</body></html>
